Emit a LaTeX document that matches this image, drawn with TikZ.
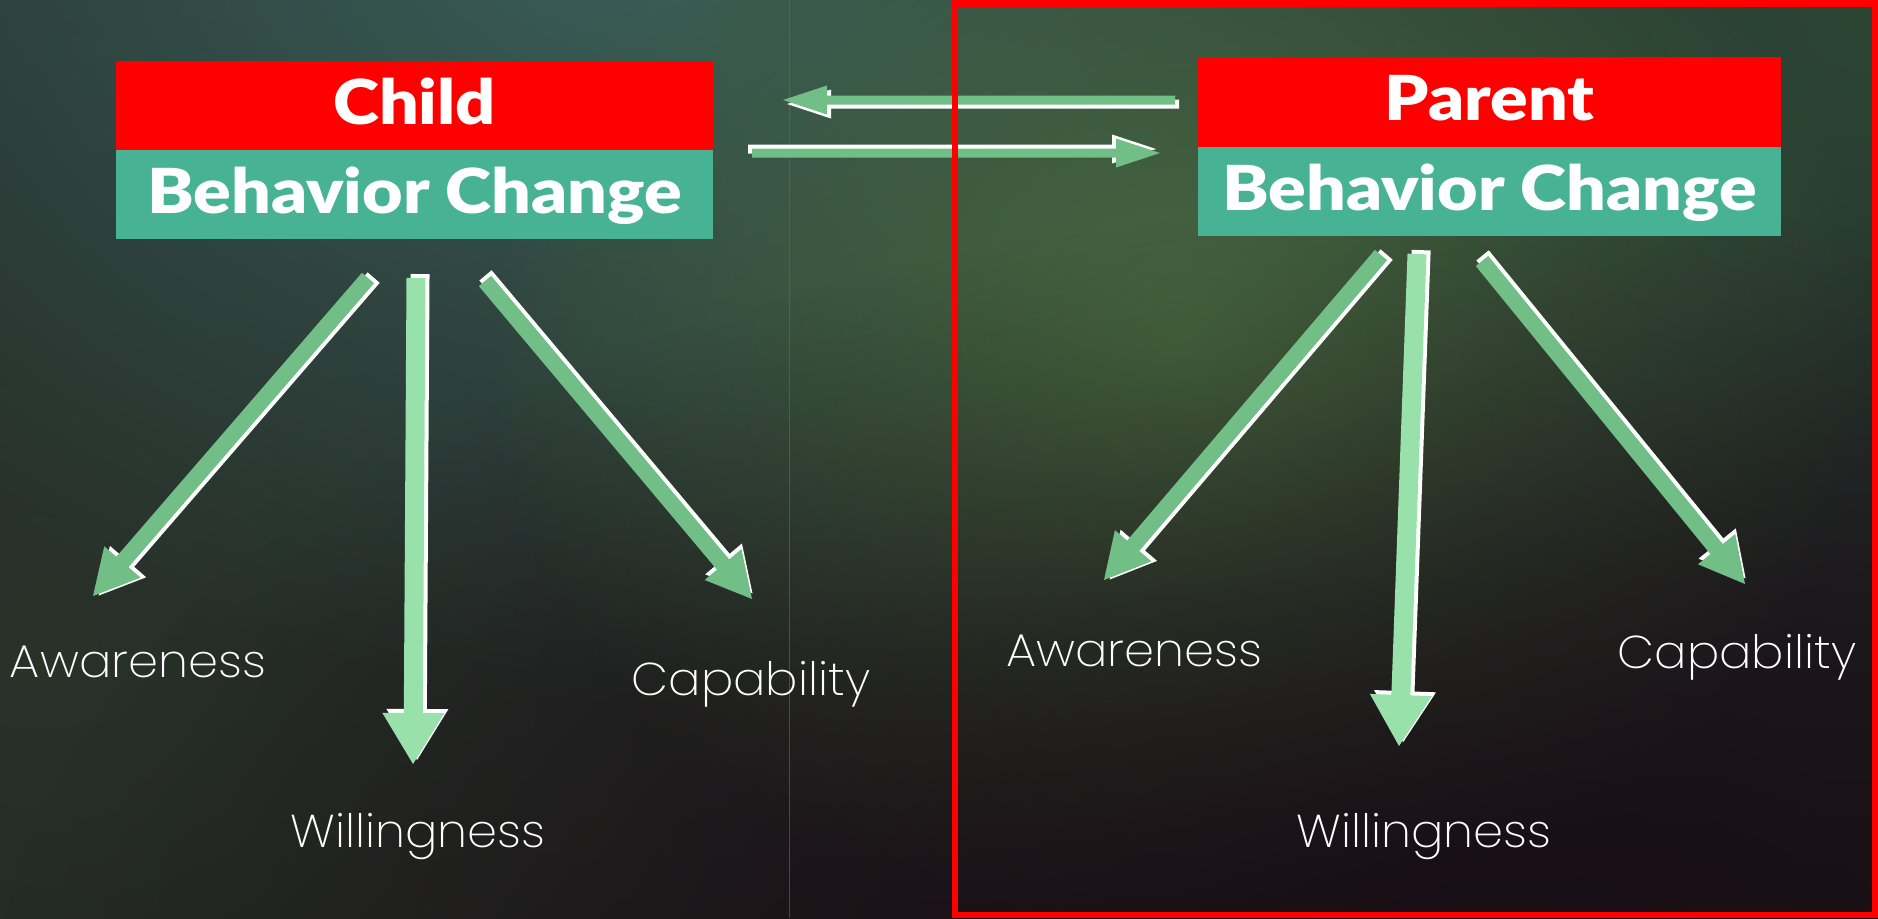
\documentclass[tikz,border=0pt]{standalone}
\usepackage{fontspec}
\usetikzlibrary{calc,fadings}
\newfontfamily\headfont{Lato Black}[FakeStretch=1.127]
\newfontfamily\labelfont{Poppins ExtraLight}[FakeStretch=1.045]

\definecolor{bgtop}{HTML}{253131}
\definecolor{bgbot}{HTML}{1E1A1C}
\definecolor{glowteal}{HTML}{3B5E58}
\definecolor{glowgreen}{HTML}{48693F}
\definecolor{moss}{HTML}{29332A}
\definecolor{pine}{HTML}{2D4634}
\definecolor{plum}{HTML}{180D14}
\definecolor{boxred}{HTML}{FF0000}
\definecolor{boxteal}{HTML}{47B394}
\definecolor{arrowgreen}{HTML}{71BE86}
\definecolor{arrowlight}{HTML}{98E1AA}
\definecolor{seam}{HTML}{4F716B}

\tikzfading[name=softglow, inner color=transparent!0, outer color=transparent!100]

% block arrow outline: #1 tail, #2 tip, #3 half shaft, #4 half head, #5 head length, #6 back point
\newcommand\arrowoutline[6]{%
  ($(#1)!#3!90:(#2)$) -- ($(#6)!#3!-90:(#1)$) -- ($(#6)!#4!-90:(#1)$) -- (#2)
  -- ($(#6)!#4!90:(#1)$) -- ($(#6)!#3!90:(#1)$) -- ($(#1)!#3!-90:(#2)$) -- cycle}

% green block arrow with a white copy peeking out on its left and back
\newcommand\blockarrow[6]{%
  \path ($(#1)!4pt!90:(#2)$) coordinate (sa) ($(#2)!4pt!-90:(#1)$) coordinate (sb);
  \path ($(sa)!-4pt!(sb)$) coordinate (ta) ($(sb)!4pt!(sa)$) coordinate (tb);
  \path ($(tb)!#5!(ta)$) coordinate (tk) ($(#2)!#5!(#1)$) coordinate (bk);
  \fill[white] \arrowoutline{ta}{tb}{#3}{#4}{#5}{tk};
  \fill[#6] \arrowoutline{#1}{#2}{#3}{#4}{#5}{bk};
}

\tikzset{
  redbox/.style={fill=boxred, text=white, inner sep=0pt, font=\headfont\fontsize{62}{62}\selectfont,
    text height=45pt, text depth=8pt},
  tealbox/.style={fill=boxteal, text=white, inner sep=0pt, font=\headfont\fontsize{62}{62}\selectfont,
    text height=45pt, text depth=8pt},
  lbl/.style={text=white, inner sep=0pt, anchor=base, font=\labelfont\fontsize{46}{46}\selectfont},
  frame/.style={draw=boxred, line width=6.5pt},
}

\begin{document}
\begin{tikzpicture}[x=1pt,y=-1pt]
  \useasboundingbox (0,0) rectangle (1878,918);

  % backdrop
  \shade[top color=bgtop, bottom color=bgbot] (0,0) rectangle (1878,918);
  \fill[moss, path fading=softglow] (40,640) ellipse (1000 and 900);
  \fill[glowteal, path fading=softglow] (640,-60) ellipse (1050 and 760);
  \fill[pine, path fading=softglow] (1880,20) ellipse (800 and 600);
  \fill[glowgreen, path fading=softglow] (1180,340) ellipse (700 and 600);
  \fill[plum, path fading=softglow] (1500,1000) ellipse (1500 and 800);
  \draw[seam, line width=1pt, opacity=0.6] (789,0) -- (789,918);

  % heading boxes
  \node[redbox, minimum width=597pt, minimum height=89pt] (childname) at (414.5,105.5) {Child};
  \node[tealbox, minimum width=597pt, minimum height=89pt, anchor=north] (childbc) at (childname.south) {Behavior Change};
  \node[redbox, minimum width=583pt, minimum height=90pt] (parentname) at (1489.5,102) {Parent};
  \node[tealbox, minimum width=583pt, minimum height=89pt, anchor=north] (parentbc) at (parentname.south) {Behavior Change};

  % labels
  \node[lbl] (caw) at (138,677) {Awareness};
  \node[lbl] (cwi) at (418,847) {Willingness};
  \node[lbl] (cca) at (751,695) {Capability};
  \node[lbl] (paw) at (1134,666) {Awareness};
  \node[lbl] (pwi) at (1424,847) {Willingness};
  \node[lbl] (pca) at (1737,668) {Capability};

  % arrow ends
  \coordinate (h1s) at (1175,100);  \coordinate (h1e) at (783,100);
  \coordinate (h2s) at (752,153);   \coordinate (h2e) at (1160,153);
  \coordinate (c1s) at (368,278);   \coordinate (c1e) at (93,596);
  \coordinate (c2s) at (416,278);   \coordinate (c2e) at (413,764);
  \coordinate (c3s) at (485,281);   \coordinate (c3e) at (752,599);
  \coordinate (p1s) at (1381,255);  \coordinate (p1e) at (1104,580);
  \coordinate (p2s) at (1417,254);  \coordinate (p2e) at (1399,746);
  \coordinate (p3s) at (1482,261);  \coordinate (p3e) at (1745,584);

  % exchange between the two boxes
  \blockarrow{h1s}{h1e}{4.5pt}{14.5pt}{44pt}{arrowgreen}
  \blockarrow{h2s}{h2e}{4.5pt}{14.5pt}{44pt}{arrowgreen}

  % child branches
  \blockarrow{c1s}{c1e}{8pt}{24pt}{45pt}{arrowgreen}
  \blockarrow{c2s}{c2e}{9.5pt}{31pt}{51pt}{arrowlight}
  \blockarrow{c3s}{c3e}{8pt}{24pt}{45pt}{arrowgreen}

  % parent branches
  \blockarrow{p1s}{p1e}{8pt}{24pt}{45pt}{arrowgreen}
  \blockarrow{p2s}{p2e}{9.5pt}{31pt}{51pt}{arrowlight}
  \blockarrow{p3s}{p3e}{8pt}{24pt}{45pt}{arrowgreen}

  % frame round the parent side
  \draw[frame] (955,3.25) rectangle (1874.75,914.75);
\end{tikzpicture}
\end{document}
